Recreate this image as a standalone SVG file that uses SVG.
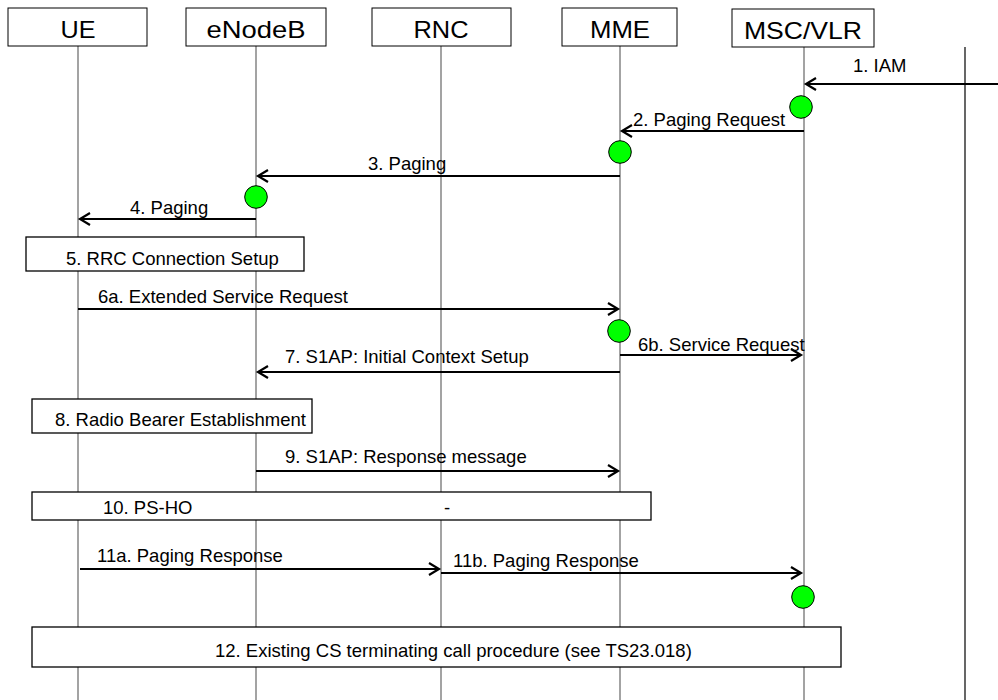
<svg xmlns="http://www.w3.org/2000/svg" width="998" height="700" viewBox="0 0 998 700">
<style>
text{font-family:"Liberation Sans",Arial,sans-serif;fill:#000}
.hd{font-size:24px;text-anchor:middle}
.lb{font-size:18.5px}
.hbox{fill:#fff;stroke:#000;stroke-width:1}
.box{fill:#fff;stroke:#000;stroke-width:1.3}
.life{stroke:#666;stroke-width:1.2}
.msg{stroke:#000;stroke-width:2.2;fill:none;marker-end:url(#ah)}
.dot{fill:#00ff00;stroke:#000;stroke-width:1}
</style>
<defs>
<marker id="ah" markerUnits="userSpaceOnUse" markerWidth="14" markerHeight="14" refX="11" refY="7" orient="auto">
<path d="M1,1 L11,7 L1,13" fill="none" stroke="#000" stroke-width="2.2"/>
</marker>
</defs>
<rect width="998" height="700" fill="#fff"/>
<g id="lifelines">
<line class="life" x1="78" y1="46" x2="78" y2="700"/>
<line class="life" x1="256" y1="46" x2="256" y2="700"/>
<line class="life" x1="441" y1="46" x2="441" y2="700"/>
<line class="life" x1="620" y1="46" x2="620" y2="700"/>
<line class="life" x1="804" y1="47" x2="804" y2="700"/>
<line x1="965" y1="47" x2="965" y2="700" stroke="#000" stroke-width="1.2"/>
</g>
<g id="UE"><rect class="hbox" x="8" y="8" width="139" height="38"/><text class="hd" x="78" y="38" textLength="35" lengthAdjust="spacingAndGlyphs">UE</text></g>
<g id="eNodeB"><rect class="hbox" x="186" y="8" width="140" height="38"/><text class="hd" x="256" y="38" textLength="99" lengthAdjust="spacingAndGlyphs">eNodeB</text></g>
<g id="RNC"><rect class="hbox" x="372" y="8" width="139" height="38"/><text class="hd" x="441" y="38" textLength="55" lengthAdjust="spacingAndGlyphs">RNC</text></g>
<g id="MME"><rect class="hbox" x="562" y="8" width="115" height="38"/><text class="hd" x="620" y="38" textLength="60" lengthAdjust="spacingAndGlyphs">MME</text></g>
<g id="MSCVLR"><rect class="hbox" x="732" y="9" width="142" height="38"/><text class="hd" x="803" y="39" textLength="118" lengthAdjust="spacingAndGlyphs">MSC/VLR</text></g>
<g id="step5"><rect class="box" x="26" y="237" width="278" height="34"/><text class="lb" x="66" y="265">5. RRC Connection Setup</text></g>
<g id="step8"><rect class="box" x="32" y="399" width="280" height="34"/><text class="lb" x="55" y="426">8. Radio Bearer Establishment</text></g>
<g id="step10"><rect class="box" x="32" y="492" width="619" height="28"/><text class="lb" x="103" y="514">10. PS-HO</text><text class="lb" x="444" y="514">-</text></g>
<g id="step12"><rect class="box" x="32" y="627" width="809" height="40"/><text class="lb" x="215" y="657">12. Existing CS terminating call procedure (see TS23.018)</text></g>
<g id="connectors">
<line class="msg" x1="998" y1="84" x2="806" y2="84"/>
<text class="lb" x="853" y="72">1. IAM</text>
<line class="msg" x1="804" y1="131" x2="622" y2="131"/>
<text class="lb" x="633" y="126">2. Paging Request</text>
<line class="msg" x1="620" y1="176" x2="258" y2="176"/>
<text class="lb" x="368" y="170">3. Paging</text>
<line class="msg" x1="256" y1="219" x2="80" y2="219"/>
<text class="lb" x="130" y="214">4. Paging</text>
<line class="msg" x1="78" y1="309" x2="618" y2="309"/>
<text class="lb" x="98" y="303">6a. Extended Service Request</text>
<line class="msg" x1="620" y1="355" x2="801" y2="355"/>
<text class="lb" x="638" y="351">6b. Service Request</text>
<line class="msg" x1="620" y1="372" x2="258" y2="372"/>
<text class="lb" x="285" y="363">7. S1AP: Initial Context Setup</text>
<line class="msg" x1="256" y1="471" x2="618" y2="471"/>
<text class="lb" x="285" y="463">9. S1AP: Response message</text>
<line class="msg" x1="80" y1="569" x2="439" y2="569"/>
<text class="lb" x="97" y="562">11a. Paging Response</text>
<line class="msg" x1="441" y1="573" x2="801" y2="573"/>
<text class="lb" x="453" y="567">11b. Paging Response</text>
</g>
<g id="events">
<circle class="dot" cx="801" cy="107" r="11.3"/>
<circle class="dot" cx="620" cy="152" r="11.3"/>
<circle class="dot" cx="256" cy="197" r="11.3"/>
<circle class="dot" cx="619" cy="331" r="11.3"/>
<circle class="dot" cx="803" cy="597" r="11.3"/>
</g>
</svg>
